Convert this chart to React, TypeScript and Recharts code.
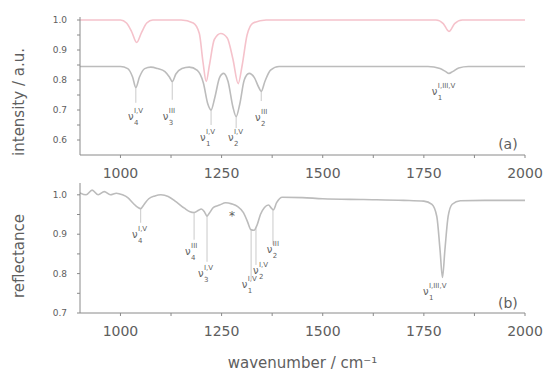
import React from 'react';
import { LineChart, Line, XAxis, YAxis, ReferenceDot, ReferenceLine } from 'recharts';

// wavenumber / value pairs
const pinkA: [number, number][] = [
  [900, 1.0], [1000, 1.0], [1015, 0.99], [1028, 0.96], [1040, 0.925], [1052, 0.958], [1065, 0.99], [1080, 1.0],
  [1150, 1.0], [1180, 0.99], [1195, 0.955], [1204, 0.86], [1212, 0.795], [1220, 0.85], [1232, 0.935], [1248, 0.955],
  [1264, 0.94], [1278, 0.87], [1291, 0.788], [1301, 0.85], [1313, 0.95], [1328, 0.99], [1360, 1.0], [1780, 1.0],
  [1798, 0.988], [1812, 0.962], [1826, 0.988], [1845, 1.0], [2000, 1.0],
];

const grayA: [number, number][] = [
  [900, 0.845], [1000, 0.845], [1018, 0.838], [1030, 0.81], [1038, 0.775], [1047, 0.81], [1060, 0.838], [1075, 0.843],
  [1092, 0.838], [1110, 0.828], [1121, 0.81], [1128, 0.795], [1137, 0.82], [1152, 0.838], [1170, 0.843], [1190, 0.832],
  [1205, 0.79], [1216, 0.72], [1224, 0.7], [1233, 0.74], [1245, 0.808], [1255, 0.822], [1266, 0.795], [1278, 0.71],
  [1286, 0.678], [1295, 0.72], [1306, 0.8], [1318, 0.822], [1331, 0.808], [1342, 0.775], [1348, 0.762], [1357, 0.795],
  [1371, 0.833], [1392, 0.845], [1500, 0.845], [1760, 0.845], [1790, 0.838], [1804, 0.828], [1812, 0.822],
  [1821, 0.828], [1836, 0.84], [1860, 0.845], [2000, 0.845],
];

const grayB: [number, number][] = [
  [900, 1.005], [915, 1.0], [930, 1.012], [945, 1.0], [960, 1.008], [975, 1.0], [990, 1.004], [1005, 1.0],
  [1018, 0.993], [1032, 0.978], [1043, 0.968], [1050, 0.965], [1058, 0.975], [1070, 0.99], [1085, 0.997], [1100, 1.0],
  [1118, 0.996], [1138, 0.982], [1158, 0.966], [1172, 0.957], [1182, 0.955], [1192, 0.96], [1200, 0.964],
  [1208, 0.956], [1214, 0.946], [1220, 0.954], [1230, 0.968], [1245, 0.974], [1260, 0.98], [1275, 0.977],
  [1290, 0.97], [1304, 0.955], [1314, 0.932], [1322, 0.912], [1330, 0.91], [1338, 0.924], [1346, 0.95],
  [1356, 0.968], [1366, 0.974], [1373, 0.966], [1378, 0.962], [1386, 0.98], [1400, 0.994], [1450, 0.993],
  [1500, 0.99], [1600, 0.988], [1700, 0.986], [1750, 0.984], [1770, 0.976], [1782, 0.945], [1790, 0.86],
  [1796, 0.79], [1802, 0.86], [1810, 0.945], [1820, 0.976], [1840, 0.985], [1900, 0.986], [2000, 0.986],
];

const xTicks = [1000, 1125, 1250, 1375, 1500, 1625, 1750, 1875, 2000];
const yTicksA = [0.6, 0.65, 0.7, 0.75, 0.8, 0.85, 0.9, 0.95, 1.0];
const yTicksB = [0.7, 0.75, 0.8, 0.85, 0.9, 0.95, 1.0];

// peak labels: [wavenumber, value, subscript, superscript]
const labelsA: [number, number, string, string][] = [
  [1019, 0.667, '4', 'I,V'], [1105, 0.667, '3', 'III'], [1197, 0.597, '1', 'I,V'],
  [1266, 0.597, '2', 'I,V'], [1333, 0.663, '2', 'III'], [1770, 0.75, '1', 'I,III,V'],
];
const labelsB: [number, number, string, string][] = [
  [1029, 0.89, '4', 'I,V'], [1160, 0.847, '4', 'III'], [1192, 0.791, '3', 'I,V'],
  [1300, 0.763, '1', 'I,V'], [1328, 0.799, '2', 'I,V'], [1362, 0.852, '2', 'III'], [1748, 0.746, '1', 'I,III,V'],
];

// thin drop lines below the peaks: [wavenumber, from, to]
const dropsA: [number, number, number][] = [
  [1038, 0.775, 0.724], [1128, 0.795, 0.734], [1224, 0.7, 0.65], [1286, 0.678, 0.64], [1348, 0.762, 0.73],
];
const dropsB: [number, number, number][] = [
  [1050, 0.965, 0.929], [1182, 0.955, 0.886], [1214, 0.946, 0.83], [1323, 0.911, 0.784],
  [1335, 0.915, 0.822], [1377, 0.962, 0.873],
];

const toRows = (pts: [number, number][]) => pts.map(([w, v]) => ({ w, v }));

const FONT = "'DejaVu Sans', Verdana, sans-serif";
const TEXT = '#5e5e5e';
const AXIS = '#8a8a8a';
const GRAY = '#bcbcbc';
const PINK = '#f5c2cb';

const NuLabel = (props: any) => {
  const { viewBox, sub, sup } = props;
  const x = viewBox.x;
  const y = viewBox.y;
  // opacity keeps the tiny text greyscale-antialiased
  return (
    <g fill={TEXT} fontFamily={FONT} opacity={0.99}>
      <text x={x} y={y} fontSize={10}>ν</text>
      <text x={x + 6} y={y + 5} fontSize={7}>{sub}</text>
      <text x={x + 6} y={y - 7} fontSize={7}>{sup}</text>
    </g>
  );
};

const PlainLabel = (props: any) => {
  const { viewBox, text, size } = props;
  return (
    <text x={viewBox.x} y={viewBox.y} fill={TEXT} fontFamily={FONT} fontSize={size} textAnchor="middle">
      {text}
    </text>
  );
};

// rotated y-axis title, centred on the plot height plus a shift
const YTitle = (props: any) => {
  const { viewBox, text, shift } = props;
  const cx = 24;
  const cy = viewBox.y + viewBox.height / 2 + shift;
  return (
    <text x={cx} y={cy} transform={`rotate(-90, ${cx}, ${cy})`} fill={TEXT} fontFamily={FONT} fontSize={15} textAnchor="middle">
      {text}
    </text>
  );
};

const XTitle = (props: any) => {
  const { viewBox } = props;
  return (
    <text x={viewBox.x + viewBox.width / 2} y={viewBox.y + 55} fill={TEXT} fontFamily={FONT} fontSize={15} textAnchor="middle">
      wavenumber / cm⁻¹
    </text>
  );
};

const xFmt = (v: number) => (v % 250 === 0 ? String(v) : '');
const yFmt = (v: number) => (Math.round(v * 100) % 10 === 0 ? v.toFixed(1) : '');

const App: React.FC = () => {
  const tickStyle = { fill: TEXT, fontSize: 14, fontFamily: FONT };
  const yTickStyle = { fill: TEXT, fontSize: 9, fontFamily: FONT };

  return (
    <div style={{ position: 'absolute', left: 0, top: 0, width: 551, height: 381, background: '#fff' }}>
      {/* panel (a) */}
      <div style={{ position: 'absolute', left: 0, top: 0 }}>
        <LineChart width={551} height={190} margin={{ top: 17, right: 26, left: 0, bottom: 0 }}>
          <XAxis
            type="number" dataKey="w" domain={[900, 2000]} ticks={xTicks} tickFormatter={xFmt}
            allowDataOverflow height={35} stroke={AXIS} tick={tickStyle} tickSize={3} tickMargin={10}
          />
          <YAxis
            type="number" domain={[0.55, 1.01]} ticks={yTicksA} tickFormatter={yFmt} allowDataOverflow
            width={80} stroke={AXIS} tick={yTickStyle} tickSize={3} tickMargin={10}
            label={{ content: (p: any) => <YTitle {...p} text="intensity / a.u." shift={16} /> }}
          />
          <Line data={toRows(pinkA)} dataKey="v" type="monotone" stroke={PINK} strokeWidth={1.6} dot={false} isAnimationActive={false} />
          <Line data={toRows(grayA)} dataKey="v" type="monotone" stroke={GRAY} strokeWidth={1.6} dot={false} isAnimationActive={false} />
          {dropsA.map(([w, a, b], i) => (
            <ReferenceLine key={`da${i}`} segment={[{ x: w, y: a }, { x: w, y: b }]} stroke={GRAY} strokeWidth={0.8} ifOverflow="visible" />
          ))}
          {labelsA.map(([w, v, sub, sup], i) => (
            <ReferenceDot key={`la${i}`} x={w} y={v} r={0.1} fill="none" stroke="none" ifOverflow="visible"
              label={{ content: (p: any) => <NuLabel {...p} sub={sub} sup={sup} /> }} />
          ))}
          <ReferenceDot x={1958} y={0.57} r={0.1} fill="none" stroke="none" ifOverflow="visible"
            label={{ content: (p: any) => <PlainLabel {...p} text="(a)" size={14} /> }} />
        </LineChart>
      </div>

      {/* panel (b) */}
      <div style={{ position: 'absolute', left: 0, top: 180 }}>
        <LineChart width={551} height={201} margin={{ top: 3, right: 26, left: 0, bottom: 0 }}>
          <XAxis
            type="number" dataKey="w" domain={[900, 2000]} ticks={xTicks} tickFormatter={xFmt}
            allowDataOverflow height={68} stroke={AXIS} tick={tickStyle} tickSize={3} tickMargin={10}
            label={{ content: (p: any) => <XTitle {...p} /> }}
          />
          <YAxis
            type="number" domain={[0.7, 1.03]} ticks={yTicksB} tickFormatter={yFmt} allowDataOverflow
            width={80} stroke={AXIS} tick={yTickStyle} tickSize={3} tickMargin={10}
            label={{ content: (p: any) => <YTitle {...p} text="reflectance" shift={8} /> }}
          />
          <Line data={toRows(grayB)} dataKey="v" type="monotone" stroke={GRAY} strokeWidth={1.6} dot={false} isAnimationActive={false} />
          {dropsB.map(([w, a, b], i) => (
            <ReferenceLine key={`db${i}`} segment={[{ x: w, y: a }, { x: w, y: b }]} stroke={GRAY} strokeWidth={0.8} ifOverflow="visible" />
          ))}
          {labelsB.map(([w, v, sub, sup], i) => (
            <ReferenceDot key={`lb${i}`} x={w} y={v} r={0.1} fill="none" stroke="none" ifOverflow="visible"
              label={{ content: (p: any) => <NuLabel {...p} sub={sub} sup={sup} /> }} />
          ))}
          <ReferenceDot x={1276} y={0.936} r={0.1} fill="none" stroke="none" ifOverflow="visible"
            label={{ content: (p: any) => <PlainLabel {...p} text="*" size={12} /> }} />
          <ReferenceDot x={1958} y={0.713} r={0.1} fill="none" stroke="none" ifOverflow="visible"
            label={{ content: (p: any) => <PlainLabel {...p} text="(b)" size={14} /> }} />
        </LineChart>
      </div>
    </div>
  );
};

export default App;
